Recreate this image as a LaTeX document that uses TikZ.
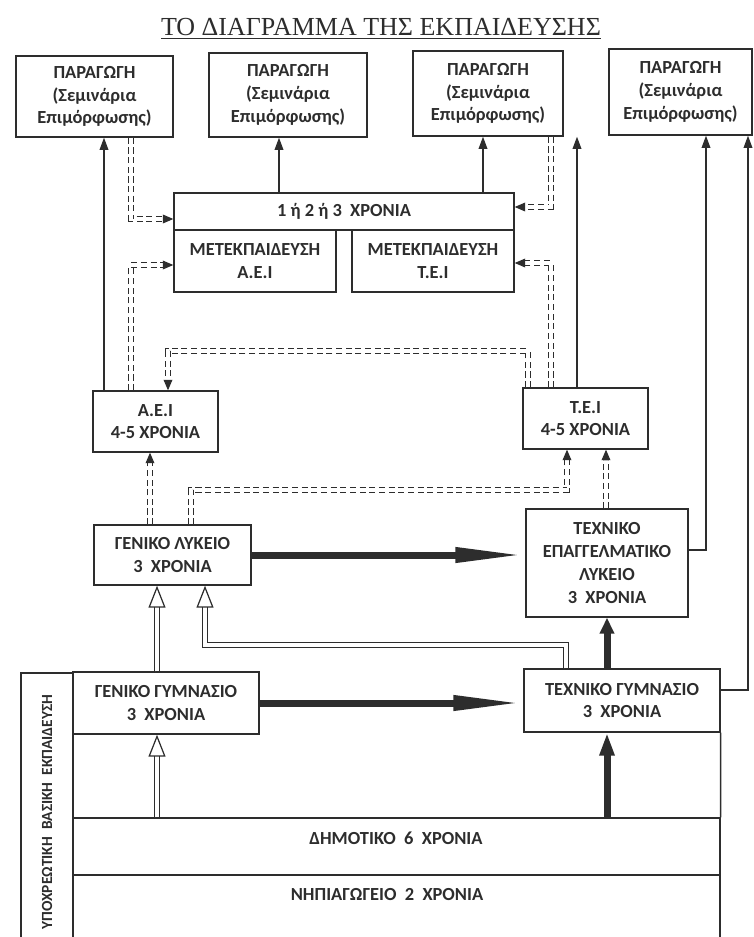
\documentclass[tikz,border=0pt]{standalone}
\usepackage{fontspec}
\setmainfont{Carlito}
\newfontfamily\titlefont{Liberation Serif}
\usetikzlibrary{arrows.meta, positioning}
\definecolor{inkgray}{RGB}{45,45,45}
\tikzstyle{box} = [rectangle, draw=inkgray, line width=0.8pt, align=center, inner sep=0pt,
                   font=\fontsize{10.5}{13}\selectfont\bfseries, text=inkgray]
\tikzstyle{bandtext} = [font=\fontsize{10.5}{13}\selectfont\bfseries, text=inkgray]
\tikzstyle{flowarrow} = [-{Triangle[length=7pt, width=5pt]}, line width=0.7pt, inkgray]
\tikzstyle{heavyarrow} = [-{Triangle[length=1.4cm, width=0.28cm]}, line width=0.14cm, inkgray]
\tikzstyle{heavyup} = [-{Triangle[length=0.4cm, width=0.28cm]}, line width=0.14cm, inkgray]
\tikzstyle{hollowarrow} = [-{Triangle[open, length=0.44cm, width=0.34cm]}, draw=inkgray,
                           double=white, double distance=2.5pt, line width=0.7pt]
\tikzstyle{ddarrow} = [-{Triangle[length=6pt, width=5pt]}, draw=inkgray, dash pattern=on 3.5pt off 2pt,
                       double=white, double distance=2.2pt, line width=0.6pt]

\begin{document}
\begin{tikzpicture}[x=0.02cm, y=-0.02cm]
\useasboundingbox (0,0) rectangle (754,937);

% Title
\node[font=\titlefont\fontsize{14.8}{17}\selectfont, text=inkgray] (title) at (381,29)
    {\underline{ΤΟ ΔΙΑΓΡΑΜΜΑ ΤΗΣ ΕΚΠΑΙΔΕΥΣΗΣ}};

% Top row: production / seminars
\node[box, minimum width=3.14cm, minimum height=1.62cm] (prod1) at (94.5,96.5) {ΠΑΡΑΓΩΓΗ\\(Σεμινάρια\\Επιμόρφωσης)};
\node[box, minimum width=3.16cm, minimum height=1.68cm] (prod2) at (288,95) {ΠΑΡΑΓΩΓΗ\\(Σεμινάρια\\Επιμόρφωσης)};
\node[box, minimum width=3.0cm, minimum height=1.70cm] (prod3) at (488,93.5) {ΠΑΡΑΓΩΓΗ\\(Σεμινάρια\\Επιμόρφωσης)};
\node[box, minimum width=2.86cm, minimum height=1.72cm] (prod4) at (680.5,92) {ΠΑΡΑΓΩΓΗ\\(Σεμινάρια\\Επιμόρφωσης)};

% Postgraduate block
\node[box, minimum width=6.8cm, minimum height=0.74cm] (years) at (344,211.5) {1 ή 2 ή 3~~ΧΡΟΝΙΑ};
\node[box, minimum width=3.24cm, minimum height=1.24cm] (metaei) at (255,261) {ΜΕΤΕΚΠΑΙΔΕΥΣΗ\\Α.Ε.Ι};
\node[box, minimum width=3.24cm, minimum height=1.24cm] (metatei) at (433,261) {ΜΕΤΕΚΠΑΙΔΕΥΣΗ\\Τ.Ε.Ι};

% Higher education
\node[box, minimum width=2.5cm, minimum height=1.22cm] (aei) at (155.5,421.5) {Α.Ε.Ι\\4-5 ΧΡΟΝΙΑ};
\node[box, minimum width=2.5cm, minimum height=1.22cm] (tei) at (585.5,418.5) {Τ.Ε.Ι\\4-5 ΧΡΟΝΙΑ};

% Upper secondary
\node[box, minimum width=3.14cm, minimum height=1.2cm] (genlyk) at (172.5,555) {ΓΕΝΙΚΟ ΛΥΚΕΙΟ\\3~~ΧΡΟΝΙΑ};
\node[box, minimum width=3.24cm, minimum height=2.16cm] (tel) at (607,563) {ΤΕΧΝΙΚΟ\\ΕΠΑΓΓΕΛΜΑΤΙΚΟ\\ΛΥΚΕΙΟ\\3~~ΧΡΟΝΙΑ};

% Compulsory education
\node[box, minimum width=3.72cm, minimum height=1.24cm] (gengym) at (166,703) {ΓΕΝΙΚΟ ΓΥΜΝΑΣΙΟ\\3~~ΧΡΟΝΙΑ};
\node[box, minimum width=3.92cm, minimum height=1.26cm] (techgym) at (622,700.5) {ΤΕΧΝΙΚΟ ΓΥΜΝΑΣΙΟ\\3~~ΧΡΟΝΙΑ};
\node[box, minimum width=1.04cm, minimum height=5.36cm] (strip) at (47,807) {};
\node[box, minimum width=12.94cm, minimum height=1.14cm] (dim) at (396.5,846.5) {};
\node[box, minimum width=12.94cm, minimum height=1.32cm] (nip) at (396.5,908) {};
\node[bandtext] (dimtext) at (396,838) {ΔΗΜΟΤΙΚΟ~~6~~ΧΡΟΝΙΑ};
\node[bandtext] (niptext) at (387,895) {ΝΗΠΙΑΓΩΓΕΙΟ~~2~~ΧΡΟΝΙΑ};
\node[text=inkgray, font=\fontsize{8.8}{10}\selectfont\bfseries, rotate=90] (sidetext) at (47,812) {ΥΠΟΧΡΕΩΤΙΚΗ~~ΒΑΣΙΚΗ~~ΕΚΠΑΙΔΕΥΣΗ};
\draw[line width=0.8pt, inkgray] (techgym.south east) -- (dim.north east);

% Solid arrows to production
\draw[flowarrow] (aei.north -| 104,0) -- (prod1.south -| 104,0);
\draw[flowarrow] (years.north -| 279,0) -- (prod2.south -| 279,0);
\draw[flowarrow] (years.north -| 483,0) -- (prod3.south -| 483,0);
\draw[flowarrow] (tei.north -| 577,0) -- (prod3.south -| 577,0);
\draw[flowarrow] (tel.east |- 0,550) -| (prod4.south -| 706,0);
\draw[flowarrow] (techgym.east |- 0,690) -| (prod4.south -| 748,0);

% Dashed double arrows
\draw[ddarrow] (prod1.south -| 131,0) |- (years.west |- 0,219);
\draw[ddarrow] (aei.north -| 131,0) |- (metaei.west |- 0,265);
\draw[ddarrow] (prod3.south -| 551,0) |- (years.east |- 0,207);
\draw[ddarrow] (tei.north -| 551,0) |- (metatei.east |- 0,263);
\draw[ddarrow] (tei.north -| 528,0) |- (168,351) -- (aei.north -| 168,0);
\draw[ddarrow] (genlyk.north -| 150,0) -- (aei.south -| 150,0);
\draw[ddarrow] (genlyk.north -| 191,0) |- (567,490) -- (tei.south -| 567,0);
\draw[ddarrow] (tel.north -| 606,0) -- (tei.south -| 606,0);

% Heavy arrows
\draw[heavyarrow] (genlyk.east) -- (genlyk.east -| tel.west);
\draw[heavyarrow] (gengym.east) -- (gengym.east -| techgym.west);
\draw[heavyup, -{Triangle[length=0.32cm, width=0.28cm]}] (tel.south |- techgym.north) -- (tel.south);
\draw[heavyup, -{Triangle[length=0.46cm, width=0.28cm]}] (dim.north -| tel.south) -- (techgym.south -| tel.south);

% Hollow arrows
\draw[hollowarrow] (dim.north -| 157,0) -- (gengym.south -| 157,0);
\draw[hollowarrow] (gengym.north -| 157,0) -- (genlyk.south -| 157,0);
\draw[hollowarrow] (techgym.north -| 566,0) |- (205,645) -- (genlyk.south -| 205,0);

\end{tikzpicture}
\end{document}
